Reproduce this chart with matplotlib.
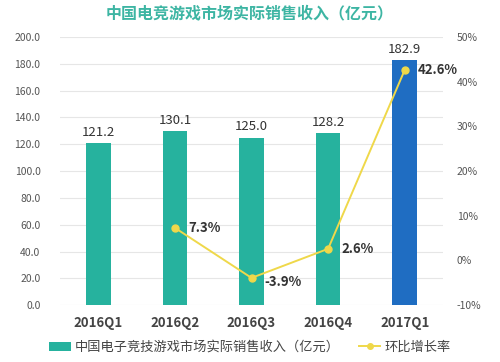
import matplotlib
matplotlib.use("Agg")
import matplotlib.pyplot as plt
from matplotlib.lines import Line2D
from matplotlib.patches import Patch

plt.rcParams['font.family'] = ['Noto Sans CJK SC', 'DejaVu Sans']

categories = ['2016Q1', '2016Q2', '2016Q3', '2016Q4', '2017Q1']
revenue = [121.2, 130.1, 125.0, 128.2, 182.9]
growth = [None, 7.3, -3.9, 2.6, 42.6]
left_ticks = [0, 20, 40, 60, 80, 100, 120, 140, 160, 180, 200]
right_ticks = [-10, 0, 10, 20, 30, 40, 50]

teal = '#26B29E'
blue = '#1F6DC2'
yellow = '#EFD84A'

fig = plt.figure(figsize=(5, 3.62), dpi=100)
ax = fig.add_axes([0.12, 0.157, 0.766, 0.741])
ax2 = ax.twinx()

x = list(range(len(categories)))
colors = [teal] * 4 + [blue]
ax.bar(x, revenue, width=0.32, color=colors, zorder=2)
ax.set_ylim(0, 200)
ax.set_xlim(-0.5, 4.5)
ax.set_yticks(left_ticks)
ax.set_yticklabels([f'{v:.1f}' for v in left_ticks], fontsize=7.5, color='#555555')
ax.grid(axis='y', color='#e6e6e6', linewidth=0.8, zorder=0)
ax.set_axisbelow(True)
ax.set_xticks(x)
ax.set_xticklabels(categories, fontsize=9.5, fontweight='bold', color='#444444')
for s in ax.spines.values():
    s.set_visible(False)
for s in ax2.spines.values():
    s.set_visible(False)
ax.tick_params(axis='both', length=0)
ax.tick_params(axis='x', pad=8)
ax.tick_params(axis='y', pad=14)

for xi, v in zip(x, revenue):
    ax.text(xi, v + 3, f'{v:.1f}', ha='center', va='bottom', fontsize=9.5, color='#333333', zorder=5)

gx = [xi for xi, g in zip(x, growth) if g is not None]
gy = [g for g in growth if g is not None]
ax2.plot(gx, gy, color=yellow, linewidth=1.4, marker='o', markersize=5, zorder=4)
ax2.set_ylim(-10, 50)
ax2.set_yticks(right_ticks)
ax2.set_yticklabels([f'{v}%' for v in right_ticks], fontsize=7.5, color='#555555')
ax2.tick_params(axis='y', length=0, pad=10)

for xi, g in zip(gx, gy):
    dy = -1.0 if g < 0 else 0.0
    ax2.text(xi + 0.17, g + dy, f'{g}%', ha='left', va='center', fontsize=9.5,
             fontweight='bold', color='#333333', zorder=6)

fig.text(0.5, 0.962, '中国电竞游戏市场实际销售收入（亿元）', ha='center', va='center',
         fontsize=11.5, fontweight='bold', color='#3DB5A3')

handles = [Patch(facecolor=teal, edgecolor='none'),
           Line2D([0], [0], color=yellow, marker='o', markersize=4, linewidth=1.4)]
fig.legend(handles, ['中国电子竞技游戏市场实际销售收入（亿元）', '环比增长率'],
           loc='center', bbox_to_anchor=(0.5, 0.04), ncol=2, frameon=False,
           fontsize=9.5, handlelength=1.6, handletextpad=0.3, columnspacing=1.5,
           labelcolor='#444444')

fig.savefig('out.png', dpi=100)
